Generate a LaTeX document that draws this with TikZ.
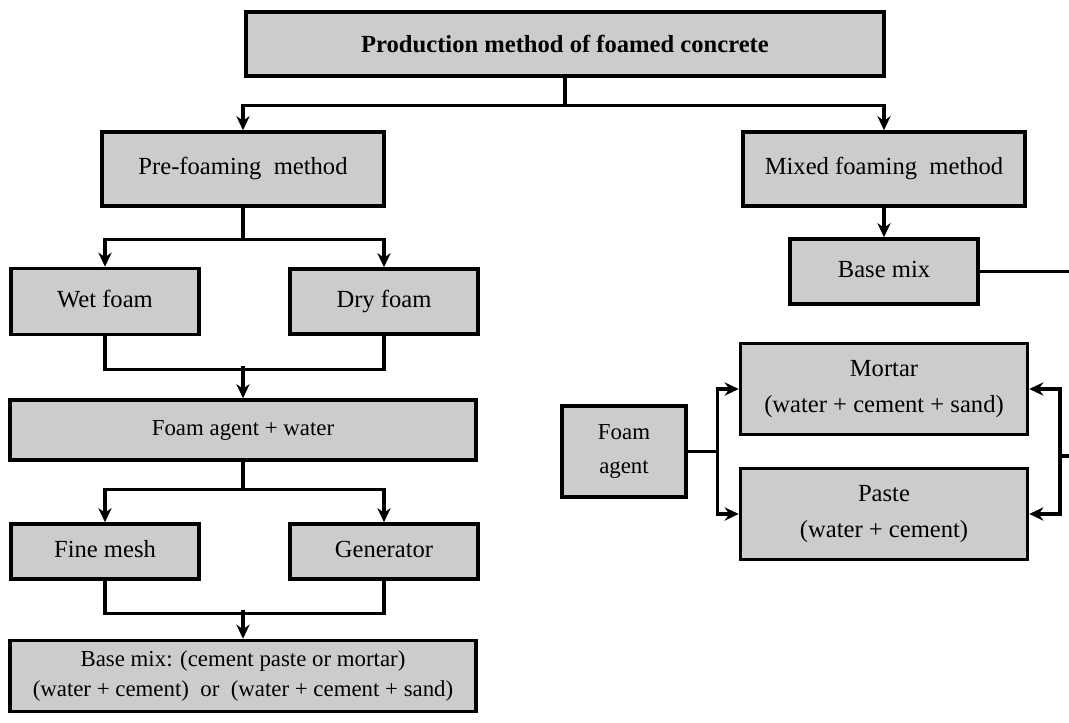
\documentclass[tikz,border=0pt]{standalone}
\usepackage{fontspec}
\setmainfont{Liberation Serif}
\usetikzlibrary{arrows.meta}
\begin{document}
\begin{tikzpicture}[node distance=2.5cm]
\tikzstyle{titlebox} = [rectangle, minimum width=12.76cm, minimum height=1.28cm, text centered, draw=black, line width=2pt, fill=gray!40, font=\fontsize{14}{16}\selectfont\bfseries]

\tikzstyle{methodbox} = [rectangle, minimum width=5.64cm, minimum height=1.48cm, text centered, text height=0.9em, text depth=0.24em, draw=black, line width=2pt, fill=gray!40, font=\fontsize{14}{16}\selectfont]

\tikzstyle{smallbox} = [rectangle, minimum width=3.76cm, minimum height=1.3cm, text centered, text height=0.9em, text depth=0.24em, draw=black, line width=2pt, fill=gray!40, font=\fontsize{14}{16}\selectfont]

\tikzstyle{widebox} = [rectangle, minimum width=9.32cm, minimum height=1.2cm, text centered, align=center, draw=black, line width=2pt, fill=gray!40, font=\fontsize{13}{17}\selectfont]

\tikzstyle{mixbox} = [rectangle, minimum width=5.74cm, minimum height=1.82cm, text centered, align=center, draw=black, line width=2pt, fill=gray!40, font=\fontsize{14}{20}\selectfont]
\tikzstyle{line} = [line width=1.8pt]
\tikzstyle{arrow} = [line width=1.8pt,->,>={Stealth[length=8pt,width=7.5pt]}]

\useasboundingbox (0,0) rectangle (21.38,-14.46);

\node (title) [titlebox] at (11.3,-0.88) {Production method of foamed concrete};
\node (pre) [methodbox, below of=title, xshift=-6.44cm] {Pre-foaming~ method};
\node (mixed) [methodbox, below of=title, xshift=6.38cm] {Mixed foaming~ method};

\node (wet) [smallbox, below of=pre, xshift=-2.76cm, yshift=-0.15cm, minimum height=1.32cm] {Wet foam};
\node (dry) [smallbox, right of=wet, xshift=3.08cm] {Dry foam};
\node (agentwater) [widebox, below of=pre, yshift=-2.72cm] {Foam agent + water};
\node (fine) [smallbox, below of=wet, yshift=-2.5cm, minimum height=1.1cm] {Fine mesh};
\node (gen) [smallbox, right of=fine, xshift=3.08cm, minimum height=1.1cm] {Generator};
\node (basemixpre) [widebox, below of=agentwater, yshift=-2.42cm, minimum height=1.42cm] {Base mix: (cement paste or mortar)\\(water + cement)~ or~ (water + cement + sand)};

\node (basemix) [smallbox, below of=mixed, yshift=0.45cm] {Base mix};
\node (mortar) [mixbox, below of=basemix, yshift=0.15cm] {Mortar\\(water + cement + sand)};
\node (paste) [mixbox, below of=mortar] {Paste\\(water + cement)};
\node (agent) [widebox, left of=mortar, xshift=-2.7cm, yshift=-1.25cm, minimum width=2.48cm, minimum height=1.82cm, font=\fontsize{13}{19}\selectfont] {Foam\\agent};

\coordinate (edgetop) at (21.38,-5.4);
\coordinate (edgemid) at (21.38,-9.12);

\draw [arrow] (title.south) -- ++(0,-0.56) -| (pre.north);
\draw [arrow] (title.south) -- ++(0,-0.56) -| (mixed.north);
\draw [arrow] (pre.south) -- ++(0,-0.64) -| (wet.north);
\draw [arrow] (pre.south) -- ++(0,-0.64) -| (dry.north);
\draw [line] (wet.south) -- ++(0,-0.67) -| (dry.south);
\draw [arrow] (agentwater.north) ++(0,0.64) -- (agentwater.north);
\draw [arrow] (agentwater.south) -- ++(0,-0.56) -| (fine.north);
\draw [arrow] (agentwater.south) -- ++(0,-0.56) -| (gen.north);
\draw [line] (fine.south) -- ++(0,-0.66) -| (gen.south);
\draw [arrow] (basemixpre.north) ++(0,0.57) -- (basemixpre.north);

\draw [arrow] (mixed) -- (basemix);
\draw [line] (basemix.east) -- (basemix.east -| edgetop);
\draw [arrow] (agent.east) -- ++(0.6,0) |- (mortar.west);
\draw [arrow] (agent.east) -- ++(0.6,0) |- (paste.west);
\draw [arrow] (edgemid) -- ++(-0.18,0) |- (mortar.east);
\draw [arrow] (edgemid) -- ++(-0.18,0) |- (paste.east);

\end{tikzpicture}
\end{document}
